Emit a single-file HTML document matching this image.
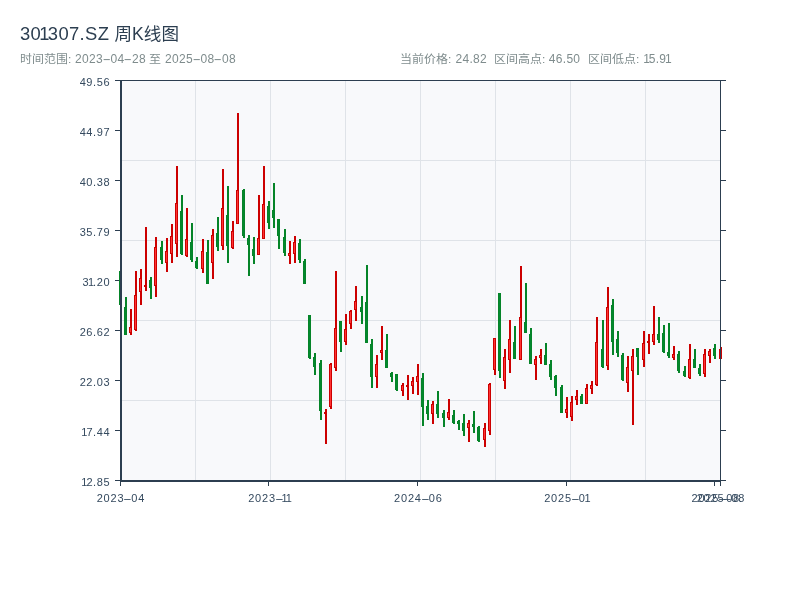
<!DOCTYPE html>
<html lang="zh-CN">
<head>
<meta charset="utf-8">
<title>301307.SZ 周K线图</title>
<style>
html,body{margin:0;padding:0;background:#fff;}
body{width:800px;height:600px;position:relative;overflow:hidden;font-family:"Liberation Sans","Noto Sans CJK SC",sans-serif;}
.chart{position:absolute;left:0;top:0;}
.t{position:absolute;white-space:nowrap;}
.title{top:22px;font-size:18.4px;line-height:24px;color:#2c3e50;letter-spacing:0.35px;}
.title .o{margin-left:-2px;margin-right:-1.9px;}
.title.cj{font-size:17.6px;top:22px;letter-spacing:0;}
.s{top:51.5px;font-size:12px;line-height:16px;color:#7f8c8d;}
.s.n{letter-spacing:0.35px;top:50.6px;}
.s.d{top:50.6px;letter-spacing:0.3px;}
.s.cj{font-size:12px;transform:scaleY(0.94);transform-origin:0 62%;top:50.5px;}
.o{margin-left:-1.3px;margin-right:-1.5px;}
.hy{display:inline-block;width:7.4px;text-align:center;transform:scaleX(2.1);letter-spacing:0;margin-left:-0.4px;margin-right:0.4px;}
.xl .hy{width:7px;margin-left:-1px;margin-right:1px;transform:scaleX(2.4);}
.yl{position:absolute;left:50px;width:60.2px;text-align:right;font-size:11px;line-height:14px;color:#34495e;white-space:nowrap;letter-spacing:0.6px;}
.xl{position:absolute;top:491px;width:80px;text-align:center;font-size:11px;line-height:14px;color:#34495e;white-space:nowrap;letter-spacing:0.8px;text-indent:0.8px;}
</style>
</head>
<body>
<svg class="chart" width="800" height="600" viewBox="0 0 800 600" shape-rendering="crispEdges"><rect x="121" y="81" width="599" height="399" fill="#f8f9fb"/><rect x="195" y="81" width="1" height="399" fill="#dfe3e8"/><rect x="270" y="81" width="1" height="399" fill="#dfe3e8"/><rect x="345" y="81" width="1" height="399" fill="#dfe3e8"/><rect x="420" y="81" width="1" height="399" fill="#dfe3e8"/><rect x="495" y="81" width="1" height="399" fill="#dfe3e8"/><rect x="570" y="81" width="1" height="399" fill="#dfe3e8"/><rect x="645" y="81" width="1" height="399" fill="#dfe3e8"/><rect x="121" y="160" width="599" height="1" fill="#dfe3e8"/><rect x="121" y="240" width="599" height="1" fill="#dfe3e8"/><rect x="121" y="320" width="599" height="1" fill="#dfe3e8"/><rect x="121" y="400" width="599" height="1" fill="#dfe3e8"/><rect x="115" y="80" width="5" height="1" fill="#2c3e50"/><rect x="721" y="80" width="5" height="1" fill="#2c3e50"/><rect x="115" y="130" width="5" height="1" fill="#2c3e50"/><rect x="721" y="130" width="5" height="1" fill="#2c3e50"/><rect x="115" y="180" width="5" height="1" fill="#2c3e50"/><rect x="721" y="180" width="5" height="1" fill="#2c3e50"/><rect x="115" y="230" width="5" height="1" fill="#2c3e50"/><rect x="721" y="230" width="5" height="1" fill="#2c3e50"/><rect x="115" y="280" width="5" height="1" fill="#2c3e50"/><rect x="721" y="280" width="5" height="1" fill="#2c3e50"/><rect x="115" y="330" width="5" height="1" fill="#2c3e50"/><rect x="721" y="330" width="5" height="1" fill="#2c3e50"/><rect x="115" y="380" width="5" height="1" fill="#2c3e50"/><rect x="721" y="380" width="5" height="1" fill="#2c3e50"/><rect x="115" y="430" width="5" height="1" fill="#2c3e50"/><rect x="721" y="430" width="5" height="1" fill="#2c3e50"/><rect x="115" y="480" width="5" height="1" fill="#2c3e50"/><rect x="721" y="480" width="5" height="1" fill="#2c3e50"/><rect x="120" y="482" width="1" height="4" fill="#2c3e50"/><rect x="268" y="482" width="1" height="4" fill="#2c3e50"/><rect x="417" y="482" width="1" height="4" fill="#2c3e50"/><rect x="566" y="482" width="1" height="4" fill="#2c3e50"/><rect x="714" y="482" width="1" height="4" fill="#2c3e50"/><rect x="720" y="482" width="1" height="4" fill="#2c3e50"/><rect x="120" y="271" width="2" height="34" fill="#058428"/><rect x="119" y="271" width="3" height="34" fill="#058428"/><rect x="120" y="272" width="1" height="32" fill="#03882f"/><rect x="125" y="297" width="2" height="38" fill="#058428"/><rect x="124" y="307" width="3" height="28" fill="#058428"/><rect x="125" y="308" width="1" height="26" fill="#03882f"/><rect x="130" y="309" width="2" height="26" fill="#cc0000"/><rect x="129" y="327" width="3" height="6" fill="#cc0000"/><rect x="130" y="328" width="1" height="4" fill="#ff3333"/><rect x="135" y="271" width="2" height="60" fill="#cc0000"/><rect x="134" y="295" width="3" height="35" fill="#cc0000"/><rect x="135" y="296" width="1" height="33" fill="#ff3333"/><rect x="140" y="269" width="2" height="36" fill="#cc0000"/><rect x="139" y="278" width="3" height="14" fill="#cc0000"/><rect x="140" y="279" width="1" height="12" fill="#ff3333"/><rect x="145" y="227" width="2" height="64" fill="#cc0000"/><rect x="144" y="285" width="3" height="2" fill="#cc0000"/><rect x="150" y="277" width="2" height="22" fill="#058428"/><rect x="149" y="280" width="3" height="8" fill="#058428"/><rect x="150" y="281" width="1" height="6" fill="#03882f"/><rect x="155" y="237" width="2" height="60" fill="#cc0000"/><rect x="154" y="247" width="3" height="39" fill="#cc0000"/><rect x="155" y="248" width="1" height="37" fill="#ff3333"/><rect x="161" y="241" width="2" height="23" fill="#058428"/><rect x="160" y="247" width="3" height="13" fill="#058428"/><rect x="161" y="248" width="1" height="11" fill="#03882f"/><rect x="166" y="238" width="2" height="34" fill="#cc0000"/><rect x="165" y="251" width="3" height="12" fill="#cc0000"/><rect x="166" y="252" width="1" height="10" fill="#ff3333"/><rect x="171" y="224" width="2" height="39" fill="#cc0000"/><rect x="170" y="236" width="3" height="18" fill="#cc0000"/><rect x="171" y="237" width="1" height="16" fill="#ff3333"/><rect x="176" y="166" width="2" height="91" fill="#cc0000"/><rect x="175" y="203" width="3" height="41" fill="#cc0000"/><rect x="176" y="204" width="1" height="39" fill="#ff3333"/><rect x="181" y="195" width="2" height="60" fill="#058428"/><rect x="180" y="211" width="3" height="43" fill="#058428"/><rect x="181" y="212" width="1" height="41" fill="#03882f"/><rect x="186" y="208" width="2" height="49" fill="#cc0000"/><rect x="185" y="239" width="3" height="17" fill="#cc0000"/><rect x="186" y="240" width="1" height="15" fill="#ff3333"/><rect x="191" y="223" width="2" height="39" fill="#058428"/><rect x="190" y="242" width="3" height="18" fill="#058428"/><rect x="191" y="243" width="1" height="16" fill="#03882f"/><rect x="196" y="257" width="2" height="12" fill="#058428"/><rect x="195" y="261" width="3" height="7" fill="#058428"/><rect x="196" y="262" width="1" height="5" fill="#03882f"/><rect x="202" y="239" width="2" height="34" fill="#cc0000"/><rect x="201" y="251" width="3" height="18" fill="#cc0000"/><rect x="202" y="252" width="1" height="16" fill="#ff3333"/><rect x="207" y="240" width="2" height="44" fill="#058428"/><rect x="206" y="252" width="3" height="32" fill="#058428"/><rect x="207" y="253" width="1" height="30" fill="#03882f"/><rect x="212" y="229" width="2" height="50" fill="#cc0000"/><rect x="211" y="235" width="3" height="28" fill="#cc0000"/><rect x="212" y="236" width="1" height="26" fill="#ff3333"/><rect x="217" y="217" width="2" height="34" fill="#058428"/><rect x="216" y="233" width="3" height="14" fill="#058428"/><rect x="217" y="234" width="1" height="12" fill="#03882f"/><rect x="222" y="169" width="2" height="81" fill="#cc0000"/><rect x="221" y="208" width="3" height="38" fill="#cc0000"/><rect x="222" y="209" width="1" height="36" fill="#ff3333"/><rect x="227" y="186" width="2" height="77" fill="#058428"/><rect x="226" y="215" width="3" height="31" fill="#058428"/><rect x="227" y="216" width="1" height="29" fill="#03882f"/><rect x="232" y="221" width="2" height="28" fill="#cc0000"/><rect x="231" y="231" width="3" height="17" fill="#cc0000"/><rect x="232" y="232" width="1" height="15" fill="#ff3333"/><rect x="237" y="113" width="2" height="111" fill="#cc0000"/><rect x="236" y="190" width="3" height="34" fill="#cc0000"/><rect x="237" y="191" width="1" height="32" fill="#ff3333"/><rect x="243" y="189" width="2" height="49" fill="#058428"/><rect x="242" y="190" width="3" height="46" fill="#058428"/><rect x="243" y="191" width="1" height="44" fill="#03882f"/><rect x="248" y="235" width="2" height="41" fill="#058428"/><rect x="247" y="238" width="3" height="7" fill="#058428"/><rect x="248" y="239" width="1" height="5" fill="#03882f"/><rect x="253" y="237" width="2" height="27" fill="#058428"/><rect x="252" y="249" width="3" height="7" fill="#058428"/><rect x="253" y="250" width="1" height="5" fill="#03882f"/><rect x="258" y="195" width="2" height="60" fill="#cc0000"/><rect x="257" y="238" width="3" height="17" fill="#cc0000"/><rect x="258" y="239" width="1" height="15" fill="#ff3333"/><rect x="263" y="166" width="2" height="73" fill="#cc0000"/><rect x="262" y="204" width="3" height="35" fill="#cc0000"/><rect x="263" y="205" width="1" height="33" fill="#ff3333"/><rect x="268" y="201" width="2" height="28" fill="#058428"/><rect x="267" y="206" width="3" height="17" fill="#058428"/><rect x="268" y="207" width="1" height="15" fill="#03882f"/><rect x="273" y="183" width="2" height="45" fill="#058428"/><rect x="272" y="210" width="3" height="8" fill="#058428"/><rect x="273" y="211" width="1" height="6" fill="#03882f"/><rect x="278" y="219" width="2" height="30" fill="#058428"/><rect x="277" y="219" width="3" height="17" fill="#058428"/><rect x="278" y="220" width="1" height="15" fill="#03882f"/><rect x="284" y="229" width="2" height="27" fill="#058428"/><rect x="283" y="237" width="3" height="16" fill="#058428"/><rect x="284" y="238" width="1" height="14" fill="#03882f"/><rect x="289" y="241" width="2" height="23" fill="#cc0000"/><rect x="288" y="253" width="3" height="3" fill="#cc0000"/><rect x="289" y="254" width="1" height="1" fill="#ff3333"/><rect x="294" y="236" width="2" height="27" fill="#cc0000"/><rect x="293" y="242" width="3" height="12" fill="#cc0000"/><rect x="294" y="243" width="1" height="10" fill="#ff3333"/><rect x="299" y="239" width="2" height="24" fill="#058428"/><rect x="298" y="243" width="3" height="17" fill="#058428"/><rect x="299" y="244" width="1" height="15" fill="#03882f"/><rect x="304" y="259" width="2" height="25" fill="#058428"/><rect x="303" y="261" width="3" height="23" fill="#058428"/><rect x="304" y="262" width="1" height="21" fill="#03882f"/><rect x="309" y="315" width="2" height="44" fill="#058428"/><rect x="308" y="315" width="3" height="43" fill="#058428"/><rect x="309" y="316" width="1" height="41" fill="#03882f"/><rect x="314" y="353" width="2" height="22" fill="#058428"/><rect x="313" y="357" width="3" height="10" fill="#058428"/><rect x="314" y="358" width="1" height="8" fill="#03882f"/><rect x="320" y="360" width="2" height="60" fill="#058428"/><rect x="319" y="363" width="3" height="48" fill="#058428"/><rect x="320" y="364" width="1" height="46" fill="#03882f"/><rect x="325" y="409" width="2" height="35" fill="#cc0000"/><rect x="324" y="412" width="3" height="2" fill="#cc0000"/><rect x="330" y="363" width="2" height="46" fill="#cc0000"/><rect x="329" y="364" width="3" height="43" fill="#cc0000"/><rect x="330" y="365" width="1" height="41" fill="#ff3333"/><rect x="335" y="271" width="2" height="100" fill="#cc0000"/><rect x="334" y="328" width="3" height="40" fill="#cc0000"/><rect x="335" y="329" width="1" height="38" fill="#ff3333"/><rect x="340" y="321" width="2" height="31" fill="#058428"/><rect x="339" y="321" width="3" height="21" fill="#058428"/><rect x="340" y="322" width="1" height="19" fill="#03882f"/><rect x="345" y="314" width="2" height="31" fill="#cc0000"/><rect x="344" y="329" width="3" height="13" fill="#cc0000"/><rect x="345" y="330" width="1" height="11" fill="#ff3333"/><rect x="350" y="310" width="2" height="19" fill="#cc0000"/><rect x="349" y="311" width="3" height="13" fill="#cc0000"/><rect x="350" y="312" width="1" height="11" fill="#ff3333"/><rect x="355" y="286" width="2" height="35" fill="#cc0000"/><rect x="354" y="301" width="3" height="9" fill="#cc0000"/><rect x="355" y="302" width="1" height="7" fill="#ff3333"/><rect x="361" y="296" width="2" height="28" fill="#058428"/><rect x="360" y="307" width="3" height="5" fill="#058428"/><rect x="361" y="308" width="1" height="3" fill="#03882f"/><rect x="366" y="265" width="2" height="78" fill="#058428"/><rect x="365" y="302" width="3" height="41" fill="#058428"/><rect x="366" y="303" width="1" height="39" fill="#03882f"/><rect x="371" y="339" width="2" height="49" fill="#058428"/><rect x="370" y="344" width="3" height="33" fill="#058428"/><rect x="371" y="345" width="1" height="31" fill="#03882f"/><rect x="376" y="355" width="2" height="33" fill="#cc0000"/><rect x="375" y="364" width="3" height="13" fill="#cc0000"/><rect x="376" y="365" width="1" height="11" fill="#ff3333"/><rect x="381" y="326" width="2" height="34" fill="#cc0000"/><rect x="380" y="350" width="3" height="3" fill="#cc0000"/><rect x="381" y="351" width="1" height="1" fill="#ff3333"/><rect x="386" y="334" width="2" height="34" fill="#058428"/><rect x="385" y="350" width="3" height="18" fill="#058428"/><rect x="386" y="351" width="1" height="16" fill="#03882f"/><rect x="391" y="372" width="2" height="10" fill="#058428"/><rect x="390" y="373" width="3" height="4" fill="#058428"/><rect x="391" y="374" width="1" height="2" fill="#03882f"/><rect x="396" y="374" width="2" height="17" fill="#058428"/><rect x="395" y="374" width="3" height="16" fill="#058428"/><rect x="396" y="375" width="1" height="14" fill="#03882f"/><rect x="402" y="383" width="2" height="13" fill="#cc0000"/><rect x="401" y="385" width="3" height="6" fill="#cc0000"/><rect x="402" y="386" width="1" height="4" fill="#ff3333"/><rect x="407" y="375" width="2" height="25" fill="#cc0000"/><rect x="406" y="385" width="3" height="2" fill="#cc0000"/><rect x="412" y="377" width="2" height="17" fill="#cc0000"/><rect x="411" y="381" width="3" height="5" fill="#cc0000"/><rect x="412" y="382" width="1" height="3" fill="#ff3333"/><rect x="417" y="364" width="2" height="31" fill="#cc0000"/><rect x="416" y="376" width="3" height="6" fill="#cc0000"/><rect x="417" y="377" width="1" height="4" fill="#ff3333"/><rect x="422" y="373" width="2" height="53" fill="#058428"/><rect x="421" y="378" width="3" height="29" fill="#058428"/><rect x="422" y="379" width="1" height="27" fill="#03882f"/><rect x="427" y="400" width="2" height="20" fill="#058428"/><rect x="426" y="406" width="3" height="8" fill="#058428"/><rect x="427" y="407" width="1" height="6" fill="#03882f"/><rect x="432" y="401" width="2" height="23" fill="#cc0000"/><rect x="431" y="404" width="3" height="10" fill="#cc0000"/><rect x="432" y="405" width="1" height="8" fill="#ff3333"/><rect x="437" y="391" width="2" height="27" fill="#058428"/><rect x="436" y="404" width="3" height="10" fill="#058428"/><rect x="437" y="405" width="1" height="8" fill="#03882f"/><rect x="443" y="410" width="2" height="17" fill="#058428"/><rect x="442" y="413" width="3" height="5" fill="#058428"/><rect x="443" y="414" width="1" height="3" fill="#03882f"/><rect x="448" y="399" width="2" height="21" fill="#cc0000"/><rect x="447" y="412" width="3" height="6" fill="#cc0000"/><rect x="448" y="413" width="1" height="4" fill="#ff3333"/><rect x="453" y="410" width="2" height="14" fill="#058428"/><rect x="452" y="415" width="3" height="8" fill="#058428"/><rect x="453" y="416" width="1" height="6" fill="#03882f"/><rect x="458" y="420" width="2" height="10" fill="#058428"/><rect x="457" y="421" width="3" height="3" fill="#058428"/><rect x="458" y="422" width="1" height="1" fill="#03882f"/><rect x="463" y="414" width="2" height="22" fill="#058428"/><rect x="462" y="423" width="3" height="8" fill="#058428"/><rect x="463" y="424" width="1" height="6" fill="#03882f"/><rect x="468" y="420" width="2" height="22" fill="#cc0000"/><rect x="467" y="423" width="3" height="5" fill="#cc0000"/><rect x="468" y="424" width="1" height="3" fill="#ff3333"/><rect x="473" y="411" width="2" height="22" fill="#058428"/><rect x="472" y="424" width="3" height="3" fill="#058428"/><rect x="473" y="425" width="1" height="1" fill="#03882f"/><rect x="478" y="426" width="2" height="16" fill="#058428"/><rect x="477" y="427" width="3" height="14" fill="#058428"/><rect x="478" y="428" width="1" height="12" fill="#03882f"/><rect x="484" y="423" width="2" height="24" fill="#cc0000"/><rect x="483" y="428" width="3" height="12" fill="#cc0000"/><rect x="484" y="429" width="1" height="10" fill="#ff3333"/><rect x="489" y="383" width="2" height="52" fill="#cc0000"/><rect x="488" y="384" width="3" height="47" fill="#cc0000"/><rect x="489" y="385" width="1" height="45" fill="#ff3333"/><rect x="494" y="338" width="2" height="37" fill="#cc0000"/><rect x="493" y="338" width="3" height="32" fill="#cc0000"/><rect x="494" y="339" width="1" height="30" fill="#ff3333"/><rect x="499" y="293" width="2" height="85" fill="#058428"/><rect x="498" y="293" width="3" height="78" fill="#058428"/><rect x="499" y="294" width="1" height="76" fill="#03882f"/><rect x="504" y="349" width="2" height="40" fill="#cc0000"/><rect x="503" y="357" width="3" height="24" fill="#cc0000"/><rect x="504" y="358" width="1" height="22" fill="#ff3333"/><rect x="509" y="320" width="2" height="53" fill="#cc0000"/><rect x="508" y="339" width="3" height="21" fill="#cc0000"/><rect x="509" y="340" width="1" height="19" fill="#ff3333"/><rect x="514" y="326" width="2" height="33" fill="#058428"/><rect x="513" y="342" width="3" height="17" fill="#058428"/><rect x="514" y="343" width="1" height="15" fill="#03882f"/><rect x="520" y="266" width="2" height="94" fill="#cc0000"/><rect x="519" y="317" width="3" height="43" fill="#cc0000"/><rect x="520" y="318" width="1" height="41" fill="#ff3333"/><rect x="525" y="283" width="2" height="50" fill="#058428"/><rect x="524" y="322" width="3" height="11" fill="#058428"/><rect x="525" y="323" width="1" height="9" fill="#03882f"/><rect x="530" y="328" width="2" height="36" fill="#058428"/><rect x="529" y="334" width="3" height="30" fill="#058428"/><rect x="530" y="335" width="1" height="28" fill="#03882f"/><rect x="535" y="356" width="2" height="24" fill="#cc0000"/><rect x="534" y="359" width="3" height="6" fill="#cc0000"/><rect x="535" y="360" width="1" height="4" fill="#ff3333"/><rect x="540" y="349" width="2" height="15" fill="#cc0000"/><rect x="539" y="355" width="3" height="3" fill="#cc0000"/><rect x="540" y="356" width="1" height="1" fill="#ff3333"/><rect x="545" y="343" width="2" height="22" fill="#058428"/><rect x="544" y="355" width="3" height="10" fill="#058428"/><rect x="545" y="356" width="1" height="8" fill="#03882f"/><rect x="550" y="360" width="2" height="20" fill="#058428"/><rect x="549" y="364" width="3" height="13" fill="#058428"/><rect x="550" y="365" width="1" height="11" fill="#03882f"/><rect x="555" y="375" width="2" height="21" fill="#058428"/><rect x="554" y="376" width="3" height="12" fill="#058428"/><rect x="555" y="377" width="1" height="10" fill="#03882f"/><rect x="561" y="385" width="2" height="28" fill="#058428"/><rect x="560" y="387" width="3" height="26" fill="#058428"/><rect x="561" y="388" width="1" height="24" fill="#03882f"/><rect x="566" y="397" width="2" height="21" fill="#cc0000"/><rect x="565" y="409" width="3" height="4" fill="#cc0000"/><rect x="566" y="410" width="1" height="2" fill="#ff3333"/><rect x="571" y="396" width="2" height="25" fill="#cc0000"/><rect x="570" y="402" width="3" height="15" fill="#cc0000"/><rect x="571" y="403" width="1" height="13" fill="#ff3333"/><rect x="576" y="390" width="2" height="15" fill="#cc0000"/><rect x="575" y="396" width="3" height="4" fill="#cc0000"/><rect x="576" y="397" width="1" height="2" fill="#ff3333"/><rect x="581" y="394" width="2" height="10" fill="#058428"/><rect x="580" y="396" width="3" height="8" fill="#058428"/><rect x="581" y="397" width="1" height="6" fill="#03882f"/><rect x="586" y="384" width="2" height="20" fill="#cc0000"/><rect x="585" y="388" width="3" height="16" fill="#cc0000"/><rect x="586" y="389" width="1" height="14" fill="#ff3333"/><rect x="591" y="381" width="2" height="13" fill="#cc0000"/><rect x="590" y="385" width="3" height="4" fill="#cc0000"/><rect x="591" y="386" width="1" height="2" fill="#ff3333"/><rect x="596" y="317" width="2" height="69" fill="#cc0000"/><rect x="595" y="342" width="3" height="43" fill="#cc0000"/><rect x="596" y="343" width="1" height="41" fill="#ff3333"/><rect x="602" y="320" width="2" height="48" fill="#058428"/><rect x="601" y="349" width="3" height="18" fill="#058428"/><rect x="602" y="350" width="1" height="16" fill="#03882f"/><rect x="607" y="287" width="2" height="83" fill="#cc0000"/><rect x="606" y="307" width="3" height="59" fill="#cc0000"/><rect x="607" y="308" width="1" height="57" fill="#ff3333"/><rect x="612" y="299" width="2" height="56" fill="#058428"/><rect x="611" y="305" width="3" height="37" fill="#058428"/><rect x="612" y="306" width="1" height="35" fill="#03882f"/><rect x="617" y="331" width="2" height="26" fill="#058428"/><rect x="616" y="339" width="3" height="14" fill="#058428"/><rect x="617" y="340" width="1" height="12" fill="#03882f"/><rect x="622" y="353" width="2" height="28" fill="#058428"/><rect x="621" y="355" width="3" height="25" fill="#058428"/><rect x="622" y="356" width="1" height="23" fill="#03882f"/><rect x="627" y="356" width="2" height="36" fill="#cc0000"/><rect x="626" y="367" width="3" height="16" fill="#cc0000"/><rect x="627" y="368" width="1" height="14" fill="#ff3333"/><rect x="632" y="349" width="2" height="76" fill="#cc0000"/><rect x="631" y="356" width="3" height="15" fill="#cc0000"/><rect x="632" y="357" width="1" height="13" fill="#ff3333"/><rect x="637" y="348" width="2" height="27" fill="#058428"/><rect x="636" y="348" width="3" height="9" fill="#058428"/><rect x="637" y="349" width="1" height="7" fill="#03882f"/><rect x="643" y="331" width="2" height="36" fill="#cc0000"/><rect x="642" y="343" width="3" height="17" fill="#cc0000"/><rect x="643" y="344" width="1" height="15" fill="#ff3333"/><rect x="648" y="334" width="2" height="20" fill="#cc0000"/><rect x="647" y="341" width="3" height="2" fill="#cc0000"/><rect x="653" y="306" width="2" height="39" fill="#cc0000"/><rect x="652" y="334" width="3" height="8" fill="#cc0000"/><rect x="653" y="335" width="1" height="6" fill="#ff3333"/><rect x="658" y="317" width="2" height="26" fill="#058428"/><rect x="657" y="334" width="3" height="6" fill="#058428"/><rect x="658" y="335" width="1" height="4" fill="#03882f"/><rect x="663" y="325" width="2" height="28" fill="#058428"/><rect x="662" y="333" width="3" height="19" fill="#058428"/><rect x="663" y="334" width="1" height="17" fill="#03882f"/><rect x="668" y="323" width="2" height="35" fill="#058428"/><rect x="667" y="352" width="3" height="4" fill="#058428"/><rect x="668" y="353" width="1" height="2" fill="#03882f"/><rect x="673" y="346" width="2" height="14" fill="#cc0000"/><rect x="672" y="354" width="3" height="4" fill="#cc0000"/><rect x="673" y="355" width="1" height="2" fill="#ff3333"/><rect x="678" y="351" width="2" height="22" fill="#058428"/><rect x="677" y="354" width="3" height="17" fill="#058428"/><rect x="678" y="355" width="1" height="15" fill="#03882f"/><rect x="684" y="366" width="2" height="11" fill="#058428"/><rect x="683" y="371" width="3" height="5" fill="#058428"/><rect x="684" y="372" width="1" height="3" fill="#03882f"/><rect x="689" y="344" width="2" height="35" fill="#cc0000"/><rect x="688" y="359" width="3" height="19" fill="#cc0000"/><rect x="689" y="360" width="1" height="17" fill="#ff3333"/><rect x="694" y="349" width="2" height="19" fill="#058428"/><rect x="693" y="359" width="3" height="9" fill="#058428"/><rect x="694" y="360" width="1" height="7" fill="#03882f"/><rect x="699" y="364" width="2" height="12" fill="#058428"/><rect x="698" y="368" width="3" height="6" fill="#058428"/><rect x="699" y="369" width="1" height="4" fill="#03882f"/><rect x="704" y="349" width="2" height="28" fill="#cc0000"/><rect x="703" y="354" width="3" height="20" fill="#cc0000"/><rect x="704" y="355" width="1" height="18" fill="#ff3333"/><rect x="709" y="349" width="2" height="14" fill="#cc0000"/><rect x="708" y="351" width="3" height="5" fill="#cc0000"/><rect x="709" y="352" width="1" height="3" fill="#ff3333"/><rect x="714" y="344" width="2" height="15" fill="#058428"/><rect x="713" y="348" width="3" height="8" fill="#058428"/><rect x="714" y="349" width="1" height="6" fill="#03882f"/><rect x="720" y="347" width="2" height="12" fill="#cc0000"/><rect x="719" y="349" width="3" height="10" fill="#cc0000"/><rect x="720" y="350" width="1" height="8" fill="#ff3333"/><rect x="120" y="80" width="601" height="1" fill="#2c3e50"/><rect x="720" y="80" width="1" height="402" fill="#2c3e50"/><rect x="120" y="80" width="2" height="402" fill="#2c3e50"/><rect x="120" y="480" width="601" height="2" fill="#2c3e50"/></svg>
<div class="t title" style="left:20px">30<span class="o">1</span>307.SZ</div>
<div class="t title cj" style="left:114.5px">周K线图</div>
<div class="t s cj" style="left:20px">时间范围:</div>
<div class="t s n" style="left:75px">2023<span class="hy">-</span>04<span class="hy">-</span>28</div>
<div class="t s cj" style="left:149px">至</div>
<div class="t s n" style="left:165px">2025<span class="hy">-</span>08<span class="hy">-</span>08</div>
<div class="t s cj" style="left:400.1px">当前价格:</div>
<div class="t s d" style="left:455.5px">24.82</div>
<div class="t s cj" style="left:494.1px">区间高点:</div>
<div class="t s d" style="left:548.8px">46.50</div>
<div class="t s cj" style="left:588.1px">区间低点:</div>
<div class="t s d" style="left:644.5px"><span class="o">1</span>5.9<span class="o">1</span></div>
<div class="yl" style="top:75px">49.56</div><div class="yl" style="top:125px">44.97</div><div class="yl" style="top:175px">40.38</div><div class="yl" style="top:225px">35.79</div><div class="yl" style="top:275px">3<span class="o">1</span>.20</div><div class="yl" style="top:325px">26.62</div><div class="yl" style="top:375px">22.03</div><div class="yl" style="top:425px"><span class="o">1</span>7.44</div><div class="yl" style="top:475px"><span class="o">1</span>2.85</div><div class="xl" style="left:80.50px">2023<span class="hy">-</span>04</div><div class="xl" style="left:229.22px">2023<span class="hy">-</span><span class="o">1</span><span class="o">1</span></div><div class="xl" style="left:377.94px">2024<span class="hy">-</span>06</div><div class="xl" style="left:526.65px">2025<span class="hy">-</span>0<span class="o">1</span></div><div class="xl" style="left:675.37px">2025<span class="hy">-</span>08</div><div class="xl" style="left:680.50px">2025<span class="hy">-</span>08</div>
</body>
</html>
